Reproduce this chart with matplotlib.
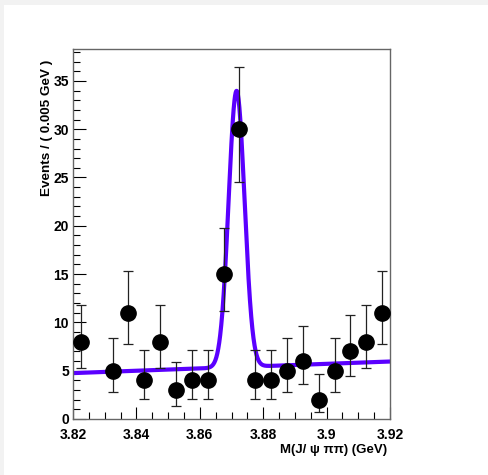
import numpy as np
import matplotlib
matplotlib.use('Agg')
import matplotlib.pyplot as plt
from matplotlib.ticker import MultipleLocator

# bin centres (0.005 GeV bins) and counts
mass = [3.8225, 3.8325, 3.8375, 3.8425, 3.8475, 3.8525, 3.8575, 3.8625,
        3.8675, 3.8725, 3.8775, 3.8825, 3.8875, 3.8925, 3.8975, 3.9025,
        3.9075, 3.9125, 3.9175]
events = [8, 5, 11, 4, 8, 3, 4, 4, 15, 30, 4, 4, 5, 6, 2, 5, 7, 8, 11]
err_low = [5.32, 2.84, 7.77, 2.09, 5.32, 1.37, 2.09, 2.09, 11.15, 24.54,
           2.09, 2.09, 2.84, 3.62, 0.71, 2.84, 4.42, 5.32, 7.77]
err_high = [11.77, 8.38, 15.29, 7.16, 11.77, 5.92, 7.16, 7.16, 19.73, 36.41,
            7.16, 7.16, 8.38, 9.58, 4.64, 8.38, 10.77, 11.77, 15.29]

# fit: gaussian signal + linear background
peak_mean = 3.8716
peak_sigma = 0.0025
peak_height = 28.6
bkg_at_start = 4.75
bkg_slope = 12.0

plt.rcParams['font.family'] = ['Liberation Sans', 'DejaVu Sans']
plt.rcParams['font.weight'] = 'bold'

fig = plt.figure(figsize=(4.89, 4.75), dpi=100, facecolor='#f2f2f2')
bg = plt.Rectangle((4 / 489, 0), 1, 1 - 5 / 475, transform=fig.transFigure,
                   facecolor='white', edgecolor='none', zorder=-10)
fig.add_artist(bg)
ax = fig.add_axes([73 / 489, 56 / 475, 317 / 489, 370 / 475])
ax.set_zorder(5)

ylo = np.array(events) - np.array(err_low)
yhi = np.array(err_high) - np.array(events)
ax.errorbar(mass, events, yerr=[ylo, yhi], fmt='o', color='black', ms=11,
            ecolor='#222222', elinewidth=0.9, capsize=3.3, capthick=0.9, zorder=3)

xs = np.linspace(3.82, 3.92, 2000)
fit = bkg_at_start + bkg_slope * (xs - 3.82) + \
    peak_height * np.exp(-0.5 * ((xs - peak_mean) / peak_sigma) ** 2)
ax.plot(xs, fit, color='#5a00ff', lw=3.0, zorder=2)

ax.set_xlim(3.82, 3.92)
ax.set_ylim(0, 38.3)
ax.xaxis.set_major_locator(MultipleLocator(0.02))
ax.xaxis.set_minor_locator(MultipleLocator(0.005))
ax.yaxis.set_major_locator(MultipleLocator(5))
ax.yaxis.set_minor_locator(MultipleLocator(1))
ax.set_xticks([3.82, 3.84, 3.86, 3.88, 3.9, 3.92])
ax.set_xticklabels(['3.82', '3.84', '3.86', '3.88', '3.9', '3.92'])
ax.tick_params(which='both', direction='in', top=False, right=False,
               labelsize=10, width=0.8)
ax.tick_params(which='major', length=9)
ax.tick_params(axis='x', which='major', pad=6.5)
ax.tick_params(axis='y', which='major', pad=3)
ax.tick_params(which='minor', length=5)
for s in ax.spines.values():
    s.set_color('#666666')
    s.set_linewidth(1.0)

ax.set_ylabel('Events / ( 0.005 GeV )', fontsize=9.7, fontweight='bold')
ax.yaxis.set_label_coords(-0.063, 0.97)
ax.yaxis.label.set_horizontalalignment('right')
ax.set_xlabel('M(J/ ψ ππ) (GeV)', fontsize=9.5, fontweight='bold')
ax.xaxis.set_label_coords(0.99, -0.068)
ax.xaxis.label.set_horizontalalignment('right')

fig.savefig('out.png', dpi=100, facecolor=fig.get_facecolor())
